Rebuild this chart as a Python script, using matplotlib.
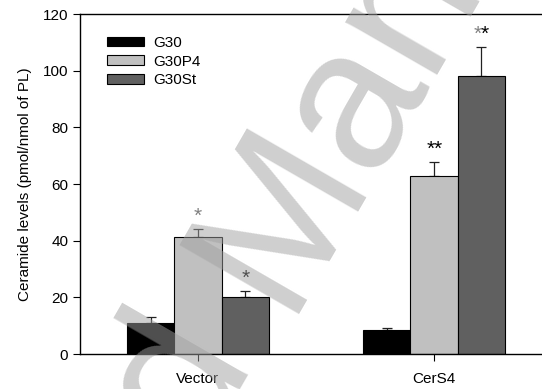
import numpy as np
import matplotlib
matplotlib.use('Agg')
import matplotlib.pyplot as plt
from matplotlib.patches import Patch

plt.rcParams['font.family'] = ['Liberation Sans', 'DejaVu Sans']

# 神经酰胺水平数据
groups = ['Vector', 'CerS4']
series = ['G30', 'G30P4', 'G30St']
g30 = [11.0, 8.5]
g30p4 = [41.2, 62.7]
g30st = [20.1, 98.2]
g30_err = [1.9, 0.8]
g30p4_err = [3.0, 5.0]
g30st_err = [2.0, 10.2]
colors = ['#000000', '#c0c0c0', '#606060']

# 显著性标记: (组, 系列, [(符号, 颜色), ...])
marks = [
    (0, 1, [('*', '#808080')]),
    (0, 2, [('*', '#000000')]),
    (1, 1, [('*', '#000000'), ('*', '#000000')]),
    (1, 2, [('*', '#808080'), ('*', '#000000')]),
]

W, H = 542, 389
fig = plt.figure(figsize=(W / 100, H / 100), dpi=100)
ax = fig.add_axes([80 / W, 35 / H, 472 / W, 340 / H])

x = np.arange(len(groups))
width = 0.201
values = [g30, g30p4, g30st]
errs = [g30_err, g30p4_err, g30st_err]
for i, (vals, err, c, name) in enumerate(zip(values, errs, colors, series)):
    pos = x + (i - 1) * width
    ax.bar(pos, vals, width, color=c, edgecolor='black', linewidth=0.8, label=name, zorder=2)
    ax.errorbar(pos, vals, yerr=[np.zeros(len(vals)), err], fmt='none',
                ecolor='#222222', elinewidth=0.9, capsize=3.6, capthick=0.9, zorder=1)

for g, s, stars in marks:
    pos = x[g] + (s - 1) * width
    top = values[s][g] + errs[s][g] + 1.2
    n = len(stars)
    for k, (sym, c) in enumerate(stars):
        off = (k - (n - 1) / 2) * 0.03
        ax.text(pos + off, top, sym, color=c, fontsize=15,
                ha='center', va='bottom')

ax.set_xlim(-0.5, 1.5)
ax.set_ylim(0, 120)
ax.set_yticks(np.arange(0, 121, 20))
ax.set_xticks(x)
ax.set_xticklabels(groups)
ax.tick_params(axis='both', direction='out', length=5, width=0.8, labelsize=11)
ax.tick_params(axis='x', pad=8)
ax.set_ylabel('Ceramide levels (pmol/nmol of PL)', fontsize=11, labelpad=8)
for sp in ax.spines.values():
    sp.set_linewidth(1.0)

handles = [Patch(facecolor=c, edgecolor='black', linewidth=0.8) for c in colors]
ax.legend(handles, series, loc='upper left', bbox_to_anchor=(27 / 472, 1 - 22 / 340),
          frameon=False, fontsize=11, borderaxespad=0, borderpad=0,
          handlelength=2.4, handleheight=0.6, handletextpad=0.6, labelspacing=0.3)

# 水印
wm = dict(fontsize=145, color='#a0a0a0', alpha=0.5, rotation=60,
          rotation_mode='anchor', va='baseline', zorder=10)
fig.text(283 / W, 1 - 314 / H, 'Accepted ', ha='right', **wm)
fig.text(283 / W, 1 - 314 / H, 'Manuscript', ha='left', **wm)

fig.savefig('out.png', dpi=100)
